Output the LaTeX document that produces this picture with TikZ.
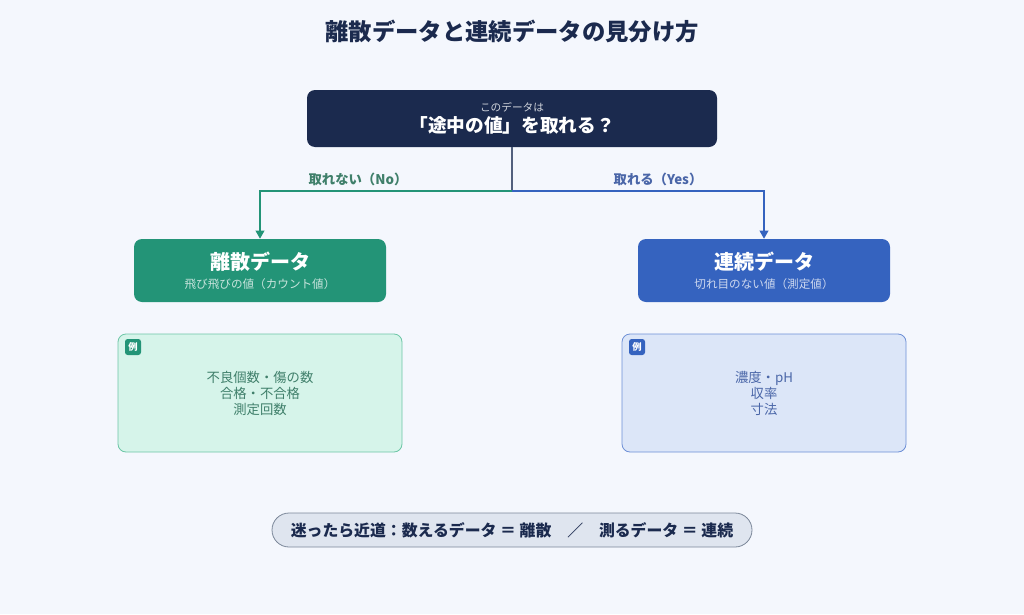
\documentclass[tikz,border=0pt]{standalone}
\usepackage{fontspec}
\setmainfont{Noto Sans CJK JP}
\usetikzlibrary{arrows.meta,positioning}
\definecolor{bgcol}{HTML}{F4F7FD}
\definecolor{navy}{HTML}{1B2A4E}
\definecolor{grn}{HTML}{239477}
\definecolor{blu}{HTML}{3563BF}
\definecolor{grnlt}{HTML}{D6F4EA}
\definecolor{grnln}{HTML}{6CC6A6}
\definecolor{blult}{HTML}{DCE6F8}
\definecolor{bluln}{HTML}{6D8FD6}
\definecolor{grntx}{HTML}{3F7F6A}
\definecolor{blutx}{HTML}{4A66A8}
\definecolor{pill}{HTML}{DFE5EF}
\definecolor{pillln}{HTML}{7B8799}
\definecolor{trunk}{HTML}{52607D}
\tikzset{
  box/.style={rounded corners=6pt, inner sep=0pt, align=center},
  kind/.style={box, minimum width=189pt, minimum height=47.25pt, text=white},
  ex/.style={box, minimum width=213pt, minimum height=88.5pt, line width=0.6pt},
  tag/.style={rounded corners=2pt, minimum size=12pt, inner sep=0pt, text=white, font=\bfseries\fontsize{7}{8}\selectfont},
  lbl/.style={font=\bfseries\fontsize{10}{12}\selectfont},
  tip/.style={-{Triangle[length=6pt,width=6.5pt]}, line width=1.1pt}
}
\begin{document}
\begin{tikzpicture}[x=0.75pt,y=-0.75pt]
\fill[bgcol] (0,0) rectangle (1024,614);
\useasboundingbox (0,0) rectangle (1024,614);

\node[font=\bfseries\fontsize{17.5}{20}\selectfont, text=navy] (title) at (512,31) {離散データと連続データの見分け方};

% question
\node[box, fill=navy, text=white, minimum width=307.5pt, minimum height=42.75pt] (ask) at (512,118.5)
  {{\fontsize{8}{9}\selectfont\color{white!80!navy} このデータは}\\[2pt]{\bfseries\fontsize{14}{16}\selectfont 「途中の値」を取れる？}};

% two kinds
\node[kind, fill=grn] (disc) at (260,270.5)
  {{\bfseries\fontsize{15}{17}\selectfont 離散データ}\\[2pt]{\fontsize{8.7}{10}\selectfont\color{white!75!grn} 飛び飛びの値（カウント値）}};
\node[kind, fill=blu] (cont) at (764,270.5)
  {{\bfseries\fontsize{15}{17}\selectfont 連続データ}\\[2pt]{\fontsize{8.7}{10}\selectfont\color{white!75!blu} 切れ目のない値（測定値）}};

% branches
\coordinate (split) at (512,191);
\draw[trunk, line width=1.1pt] (ask.south) -- (split);
\draw[grn, tip] (split) -| (disc.north);
\draw[blu, tip] (split) -| (cont.north);
\node[lbl, text=grntx] (no) at (358,179) {取れない（No）};
\node[lbl, text=blutx] (yes) at (658,179) {取れる（Yes）};

% examples
\node[ex, fill=grnlt, draw=grnln, text=grntx] (exd) at (260,393)
  {\fontsize{10}{15.5}\selectfont 不良個数・傷の数\\ 合格・不合格\\ 測定回数};
\node[tag, fill=grn] (tagd) at (133,347) {例};
\node[ex, fill=blult, draw=bluln, text=blutx] (exc) at (764,393)
  {\fontsize{10}{15.5}\selectfont 濃度・pH\\ 収率\\ 寸法};
\node[tag, fill=blu] (tagc) at (637,347) {例};

% hint
\node[box, rounded corners=12.75pt, fill=pill, draw=pillln, line width=0.6pt, minimum width=360pt, minimum height=25.5pt, text=navy,
  font=\bfseries\fontsize{11.9}{14}\selectfont] (hint) at (512,530)
  {迷ったら近道：数えるデータ ＝ 離散　／　測るデータ ＝ 連続};
\end{tikzpicture}
\end{document}
